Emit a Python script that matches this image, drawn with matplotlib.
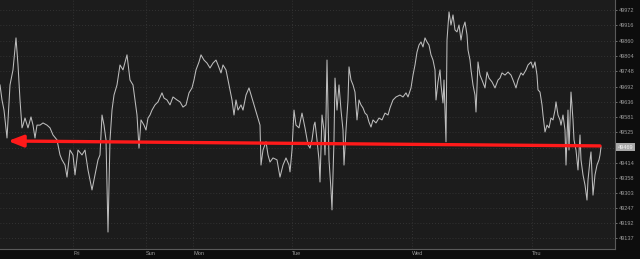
"""Intraday price line with a red arrow back to the starting level."""

from __future__ import annotations

import matplotlib
import numpy as np

matplotlib.use("Agg")
import matplotlib.pyplot as plt

# 12-minute bars since the start of the window, and the traded price at each one
BARS = [
    0, 2, 4, 7, 10, 13, 16, 18, 20, 22, 23, 25, 28, 31, 33, 35, 37, 40, 43, 47,
    50, 53, 57, 60, 62, 65, 67, 70, 73, 75, 78, 82, 85, 88, 92, 95, 98, 100, 102, 104,
    106, 108, 110, 112, 114, 117, 120, 123, 127, 130, 133, 135, 137, 139, 141, 144, 146, 148, 150, 152,
    155, 158, 162, 164, 167, 170, 173, 177, 180, 183, 186, 189, 192, 194, 196, 199, 201, 204, 207, 210,
    213, 216, 218, 221, 223, 226, 228, 230, 232, 234, 236, 238, 241, 243, 246, 249, 252, 255, 258, 260,
    261, 263, 266, 268, 270, 273, 277, 280, 283, 286, 289, 290, 292, 294, 296, 299, 302, 305, 308, 310,
    312, 314, 315, 317, 319, 320, 322, 324, 325, 326, 327, 329, 331, 332, 334, 335, 337, 339, 341, 343,
    344, 346, 348, 349, 351, 353, 355, 357, 359, 361, 363, 365, 367, 369, 371, 373, 376, 379, 382, 385,
    388, 390, 393, 396, 400, 403, 406, 408, 411, 413, 415, 417, 419, 421, 423, 425, 427, 429, 431, 433,
    435, 436, 438, 440, 441, 443, 444, 446, 447, 449, 451, 453, 455, 457, 459, 461, 463, 465, 467, 468,
    470, 471, 473, 475, 476, 478, 480, 482, 485, 487, 489, 492, 495, 498, 500, 502, 505, 508, 511, 513,
    516, 518, 521, 523, 526, 528, 531, 533, 535, 537, 538, 540, 542, 543, 545, 547, 549, 551, 553, 555,
    556, 558, 560, 561, 563, 565, 566, 568, 569, 571, 573, 574, 576, 578, 580, 581, 583, 585, 587, 588,
    590, 591, 593, 595, 597, 599, 600, 601,
]
PRICES = [
    49698, 49643, 49606, 49504, 49698, 49753, 49870, 49771, 49643, 49541, 49551, 49577, 49541, 49581, 49551, 49504, 49551, 49551, 49559, 49551,
    49541, 49515, 49497, 49442, 49424, 49405, 49361, 49460, 49442, 49369, 49460, 49442, 49460, 49387, 49314, 49369, 49424, 49442, 49588, 49551,
    49497, 49160, 49497, 49606, 49661, 49698, 49771, 49753, 49808, 49716, 49698, 49643, 49588, 49467, 49570, 49551, 49533, 49577, 49588, 49606,
    49625, 49636, 49669, 49650, 49643, 49625, 49654, 49643, 49636, 49617, 49625, 49669, 49687, 49716, 49753, 49782, 49808, 49789, 49778, 49760,
    49778, 49789, 49771, 49742, 49771, 49753, 49716, 49680, 49643, 49588, 49643, 49606, 49625, 49606, 49661, 49687, 49650, 49614, 49577, 49551,
    49405, 49460, 49490, 49442, 49416, 49431, 49424, 49361, 49405, 49431, 49405, 49380, 49460, 49606, 49551, 49541, 49595, 49541, 49479, 49467,
    49497, 49551, 49562, 49497, 49424, 49343, 49588, 49533, 49442, 49577, 49789, 49424, 49314, 49241, 49497, 49723, 49606, 49698, 49606, 49533,
    49405, 49533, 49643, 49764, 49716, 49698, 49672, 49570, 49643, 49625, 49614, 49595, 49588, 49562, 49544, 49570, 49559, 49577, 49570, 49595,
    49588, 49614, 49643, 49654, 49661, 49654, 49669, 49654, 49687, 49734, 49771, 49818, 49844, 49855, 49837, 49870, 49855, 49844, 49808, 49789,
    49753, 49643, 49709, 49753, 49698, 49632, 49716, 49490, 49862, 49965, 49917, 49954, 49899, 49892, 49917, 49862, 49906, 49928, 49881, 49826,
    49789, 49753, 49698, 49661, 49599, 49782, 49734, 49716, 49687, 49745, 49723, 49709, 49687, 49716, 49723, 49742, 49734, 49745, 49734, 49716,
    49687, 49716, 49742, 49734, 49753, 49771, 49782, 49760, 49782, 49734, 49680, 49672, 49625, 49588, 49526, 49551, 49541, 49577, 49570, 49606,
    49636, 49588, 49570, 49551, 49588, 49533, 49405, 49606, 49460, 49672, 49570, 49497, 49460, 49387, 49515, 49424, 49369, 49332, 49277, 49350,
    49424, 49453, 49295, 49369, 49405, 49424, 49442, 49471,
]

DAY_LABELS = ["Fri", "Sun", "Mon", "Tue", "Wed", "Thu"]
DAY_BARS = [73, 146, 193, 292, 412, 532]

PRICE_TICKS = [
    49137, 49192, 49247, 49303, 49358, 49414, 49469, 49525,
    49581, 49636, 49692, 49748, 49804, 49860, 49916, 49972,
]
LAST_PRICE_LABEL = "49469"

# red arrow: from the last bar back to the opening level
ARROW_START = (600, 49475)
ARROW_END = (8, 49493)

PANEL_BG = "#1c1c1c"
OUTER_BG = "#0d0d0d"
TEXT_GREY = "#9a9a9a"
GRID_GREY = "#3a3a3a"


def plot_chart(output_path: str = "out.png") -> None:
    fig = plt.figure(figsize=(6.4, 2.59), dpi=100, facecolor=OUTER_BG)
    ax = fig.add_axes([0.0, 10 / 259, 615 / 640, 249 / 259], facecolor=PANEL_BG)

    bars = np.array(BARS, dtype=float)
    prices = np.array(PRICES, dtype=float)
    ax.plot(bars, prices, color="#bdbdbd", linewidth=0.75, zorder=3)

    ax.annotate(
        "",
        xy=ARROW_END,
        xytext=ARROW_START,
        arrowprops=dict(
            arrowstyle="-|>,head_length=0.9,head_width=0.35",
            color="#ff1a1a",
            linewidth=2.4,
            shrinkA=0,
            shrinkB=0,
        ),
        zorder=4,
    )

    ax.set_xlim(0, 615)
    ax.set_ylim(49098, 50008.6)

    ax.yaxis.tick_right()
    ax.set_yticks(PRICE_TICKS)
    ax.set_yticklabels([str(t) for t in PRICE_TICKS])
    ax.set_xticks(DAY_BARS)
    ax.set_xticklabels(DAY_LABELS, ha="left")

    for label in ax.get_yticklabels():
        label.set_fontfamily("Liberation Sans")
        if label.get_text() == LAST_PRICE_LABEL:
            label.set_visible(False)

    ax.tick_params(axis="y", colors=TEXT_GREY, labelsize=4, length=1.5, width=0.5, pad=1.5)
    ax.tick_params(axis="x", colors=TEXT_GREY, labelsize=4, length=0, pad=1.5)
    for label in ax.get_xticklabels():
        label.set_fontfamily("Liberation Sans")

    ax.grid(True, color=GRID_GREY, linestyle=(0, (1, 2.5)), linewidth=0.6)

    for side in ("top", "left"):
        ax.spines[side].set_visible(False)
    for side in ("right", "bottom"):
        ax.spines[side].set_color("#5a5a5a")
        ax.spines[side].set_linewidth(0.8)

    ax.text(
        1.0 + 3 / 615,
        prices[-1],
        LAST_PRICE_LABEL,
        transform=ax.get_yaxis_transform(),
        ha="left",
        va="center",
        fontsize=4,
        family="Liberation Sans",
        color="#f4f4f4",
        bbox=dict(boxstyle="square,pad=0.3", facecolor="#a8a8a8", edgecolor="none"),
        clip_on=False,
    )

    fig.savefig(output_path, dpi=100, facecolor=OUTER_BG)


def main() -> None:
    plot_chart("out.png")


if __name__ == "__main__":
    main()
